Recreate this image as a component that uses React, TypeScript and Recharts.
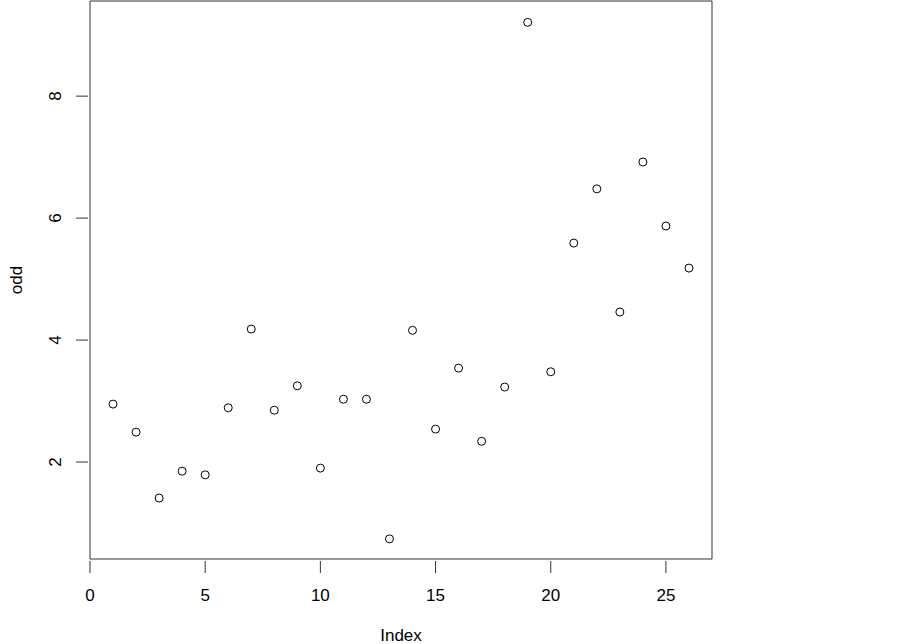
import React from 'react'
import {
  ScatterChart,
  Scatter,
  XAxis,
  YAxis,
  ReferenceArea,
  Label,
} from 'recharts';

// index positions and values of "odd"
const indexValues = [1, 2, 3, 4, 5, 6, 7, 8, 9, 10, 11, 12, 13, 14, 15, 16, 17, 18, 19, 20, 21, 22, 23, 24, 25, 26];
const oddValues = [
  2.95, 2.49, 1.41, 1.85, 1.79, 2.89, 4.18, 2.85, 3.25, 1.90,
  3.03, 3.03, 0.74, 4.16, 2.54, 3.54, 2.34, 3.23, 9.21, 3.48,
  5.59, 6.48, 4.46, 6.92, 5.87, 5.18,
];
const xTicks = [0, 5, 10, 15, 20, 25];
const yTicks = [2, 4, 6, 8];
const xDomain: [number, number] = [0, 27];
const yDomain: [number, number] = [0.41, 9.56];

const data = indexValues.map((i, k) => ({ index: i, odd: oddValues[k] }));

const FONT = '"Liberation Sans", Arial, sans-serif';

const XTick = (props: any) => {
  const { x, y, payload } = props;
  return (
    <g>
      <line x1={x} y1={y - 12} x2={x} y2={y} stroke="#333" />
      <text x={x} y={y + 28} textAnchor="middle" fontSize={17} fontFamily={FONT} fill="#000">
        {payload.value}
      </text>
    </g>
  );
};

const YTick = (props: any) => {
  const { x, y, payload } = props;
  return (
    <g>
      <line x1={x} y1={y} x2={x + 12} y2={y} stroke="#333" />
      <text
        x={x - 15}
        y={y}
        textAnchor="middle"
        fontSize={17}
        fontFamily={FONT}
        fill="#000"
        transform={`rotate(-90, ${x - 15}, ${y})`}
      >
        {payload.value}
      </text>
    </g>
  );
};

const Ring = (props: any) => (
  <circle cx={props.cx} cy={props.cy} r={4} fill="none" stroke="#000" strokeWidth={1} />
);

export default function App() {
  return (
    <div style={{ position: 'absolute', left: 0, top: 0, background: '#fff' }}>
      <ScatterChart
        width={903}
        height={644}
        margin={{ top: 1, right: 191, bottom: 0, left: 0 }}
      >
        <XAxis
          type="number"
          dataKey="index"
          domain={xDomain}
          ticks={xTicks}
          allowDataOverflow
          axisLine={false}
          tickLine={false}
          tickSize={12}
          tick={<XTick />}
          height={85}
        >
          <Label
            content={() => (
              <text x={401} y={641} textAnchor="middle" fontSize={17} fontFamily={FONT} fill="#000">
                Index
              </text>
            )}
          />
        </XAxis>
        <YAxis
          type="number"
          dataKey="odd"
          domain={yDomain}
          ticks={yTicks}
          allowDataOverflow
          axisLine={false}
          tickLine={false}
          tickSize={12}
          tick={<YTick />}
          width={90}
        >
          <Label
            content={() => (
              <text
                x={22}
                y={280}
                textAnchor="middle"
                fontSize={17}
                fontFamily={FONT}
                fill="#000"
                transform="rotate(-90, 22, 280)"
              >
                odd
              </text>
            )}
          />
        </YAxis>
        <ReferenceArea
          x1={xDomain[0]}
          x2={xDomain[1]}
          y1={yDomain[0]}
          y2={yDomain[1]}
          fill="none"
          fillOpacity={0}
          stroke="#333"
          strokeWidth={1}
        />
        <Scatter data={data} shape={<Ring />} isAnimationActive={false} />
      </ScatterChart>
    </div>
  );
}
